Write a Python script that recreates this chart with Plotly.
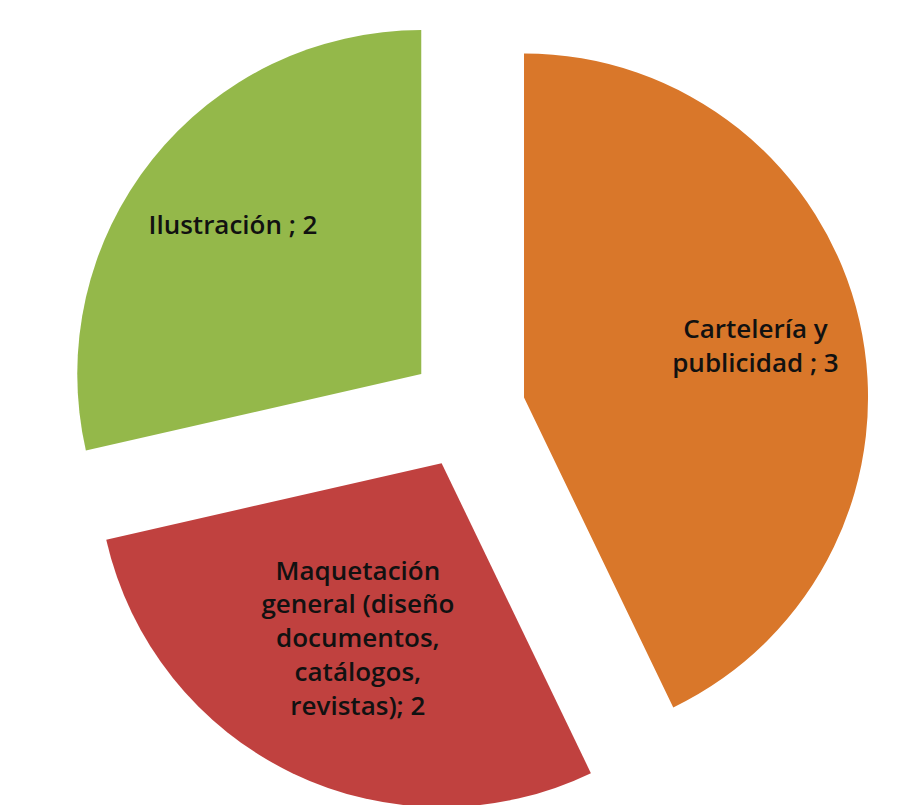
import plotly.graph_objects as go

categories = ["Cartelería y publicidad", "Maquetación general (diseño documentos, catálogos, revistas)", "Ilustración"]
display_labels = ["Cartelería y<br>publicidad", "Maquetación<br>general (diseño<br>documentos,<br>catálogos,<br>revistas)", "Ilustración"]
separators = [" ; ", "; ", " ; "]
values = [3, 2, 2]
colors = ["#D9772A", "#C0413F", "#94B84A"]

texts = [f"{l}{s}{v}" for l, s, v in zip(display_labels, separators, values)]
pulls = [0.17, 0.17, 0.17]

common = dict(
    labels=categories,
    values=values,
    sort=False,
    direction="clockwise",
    rotation=0,
    pull=pulls,
    showlegend=False,
    domain=dict(x=[0, 1], y=[0, 1]),
)

# coloured slices
fig = go.Figure(go.Pie(
    **common,
    textinfo="none",
    marker=dict(colors=colors, line=dict(width=0)),
    hoverinfo="label+value",
))

# label layers (transparent rings so labels sit further out, as in the reference)
label_font = dict(family="Open Sans", size=26, color="#111111", weight=600)
for hole, keep in [(0.38, {0}), (0.40, {2}), (0.12, {1})]:
    fig.add_trace(go.Pie(
        **common,
        hole=hole,
        text=[t if i in keep else "" for i, t in enumerate(texts)],
        textinfo="text",
        textposition="inside",
        insidetextorientation="horizontal",
        marker=dict(colors=["rgba(0,0,0,0)"] * 3, line=dict(width=0)),
        textfont=label_font,
        hoverinfo="skip",
    ))

fig.update_layout(
    width=918, height=805,
    margin=dict(l=0, r=0, t=0, b=0),
    paper_bgcolor="white",
    plot_bgcolor="white",
)

fig.write_html("out.html")
